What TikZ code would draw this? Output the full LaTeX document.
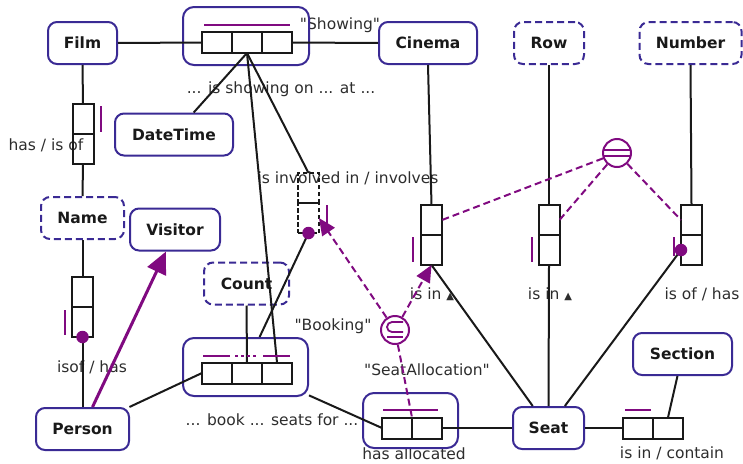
\documentclass[tikz,border=0pt]{standalone}
\usepackage{fontspec}
\setmainfont{DejaVu Sans}
\usetikzlibrary{arrows.meta,calc}

\definecolor{entblue}{RGB}{58,42,148}
\definecolor{cpurple}{RGB}{128,10,128}
\definecolor{lblgray}{RGB}{45,45,45}

\newcommand\tritip{{\fontsize{10}{10}\selectfont ▲}}
\newcommand\qq[1]{\textquotedbl#1\textquotedbl}

\tikzset{
  ent/.style={draw=entblue, line width=2pt, rounded corners=9pt, minimum height=42pt,
    inner sep=0pt, font=\fontsize{15.5}{18}\selectfont\bfseries, text=black!90},
  valt/.style={ent, dash pattern=on 7pt off 4pt},
  fbox/.style={draw=entblue, line width=2pt, rounded corners=11pt, inner sep=0pt},
  hrole/.style={draw=black!90, line width=2pt, minimum width=30pt, minimum height=21pt,
    inner sep=0pt, outer sep=0pt},
  vrole/.style={hrole, minimum width=21pt, minimum height=30pt},
  drole/.style={vrole, dash pattern=on 4.5pt off 2.5pt},
  conn/.style={draw=black!90, line width=2pt},
  uq/.style={draw=cpurple, line width=2pt},
  cdash/.style={draw=cpurple, line width=2pt, dash pattern=on 7pt off 4pt},
  ctip/.style={-{Triangle[length=17pt,width=15pt]}},
  dotm/.style={circle, fill=cpurple, minimum size=12.5pt, inner sep=0pt},
  lbl/.style={font=\fontsize{15.5}{18}\selectfont, text=lblgray, inner sep=0pt},
  cons/.style={circle, draw=cpurple, line width=2pt, minimum size=28pt, inner sep=0pt}
}

\begin{document}
\begin{tikzpicture}[x=1pt,y=-1pt]
\useasboundingbox (0,0) rectangle (743,463);

% reading labels
\node[lbl] (lshowing) at (340,25) {\qq{Showing}};
\node[lbl] (lshowon) at (281,89) {... is showing on ... at ...};
\node[lbl] (lhasis) at (46,145) {has / is of};
\node[lbl] (lisof) at (92,367) {isof / has};
\node[lbl] (linvolved) at (348,178) {is involved in / involves};
\node[lbl] (lcinin) at (432,294) {is in \tritip};
\node[lbl] (lrowin) at (550,294) {is in \tritip};
\node[lbl] (lnumof) at (702,294) {is of / has};
\node[lbl] (lbooking) at (333,326) {\qq{Booking}};
\node[lbl] (lalloc) at (427,370) {\qq{SeatAllocation}};
\node[lbl] (lbook) at (272,420) {... book ... seats for ...};
\node[lbl] (lhasalloc) at (414,454) {has allocated};
\node[lbl] (lcontain) at (672,453) {is in / contain};

% object and value types
\node[ent, minimum width=69pt] (film) at (82.5,43) {Film};
\node[ent, minimum width=98pt] (cinema) at (428,43) {Cinema};
\node[valt, minimum width=70pt] (row) at (549,43) {Row};
\node[valt, minimum width=102pt] (number) at (690.5,43) {Number};
\node[ent, minimum width=118pt] (datetime) at (174,134.5) {DateTime};
\node[valt, minimum width=83pt] (name) at (82.5,218) {Name};
\node[ent, minimum width=90pt] (visitor) at (175,229.5) {Visitor};
\node[valt, minimum width=85pt] (count) at (246.5,283.5) {Count};
\node[ent, minimum width=93pt] (person) at (82.5,429) {Person};
\node[ent, minimum width=71pt] (seat) at (548.5,428) {Seat};
\node[ent, minimum width=99pt] (section) at (682.5,354) {Section};

% objectified fact types
\node[fbox, minimum width=126pt, minimum height=58pt] (showbox) at (246,36) {};
\node[fbox, minimum width=125pt, minimum height=58pt] (bookbox) at (245.5,367) {};
\node[fbox, minimum width=95pt, minimum height=55pt] (allocbox) at (410.5,420.5) {};

% role boxes
\node[hrole] (s1) at (217,42.5) {};
\node[hrole] (s2) at (247,42.5) {};
\node[hrole] (s3) at (277,42.5) {};
\node[hrole] (b1) at (217,373) {};
\node[hrole] (b2) at (247,373) {};
\node[hrole] (b3) at (277,373) {};
\node[hrole] (a1) at (397,428) {};
\node[hrole] (a2) at (427,428) {};
\node[hrole] (c1) at (638,428) {};
\node[hrole] (c2) at (668,428) {};
\node[vrole] (f1) at (83,119) {};
\node[vrole] (f2) at (83,149) {};
\node[vrole] (p1) at (82.5,292) {};
\node[vrole] (p2) at (82.5,322) {};
\node[drole] (i1) at (308.5,188) {};
\node[drole] (i2) at (308.5,218) {};
\node[vrole] (k1) at (431.5,220) {};
\node[vrole] (k2) at (431.5,250) {};
\node[vrole] (r1) at (549,220) {};
\node[vrole] (r2) at (549,250) {};
\node[vrole] (n1) at (691.5,220) {};
\node[vrole] (n2) at (691.5,250) {};

% role connectors
\draw[conn] (film.east) -- (s1.west);
\draw[conn] (s3.east) -- (cinema.west);
\draw[conn] (s2.south) -- (datetime);
\draw[conn] (s2.south) -- (b3.north);
\draw[conn] (s2.south) -- (i1.north);
\draw[conn] (i2.south) -- (bookbox);
\draw[conn] (count.south) -- (b2.north);
\draw[conn] (person) -- (b1.west);
\draw[conn] (bookbox) -- (a1.west);
\draw[conn] (a2.east) -- (seat.west);
\draw[conn] (seat.east) -- (c1.west);
\draw[conn] (c2.north) -- (section);
\draw[conn] (cinema.south) -- (k1.north);
\draw[conn] (k2.south) -- (seat);
\draw[conn] (row.south) -- (r1.north);
\draw[conn] (r2.south) -- (seat.north);
\draw[conn] (number.south) -- (n1.north);
\draw[conn] (n2.west) -- (seat);
\draw[conn] (film.south) -- (f1.north);
\draw[conn] (f2.south) -- (name.north);
\draw[conn] (name.south) -- (p1.north);
\draw[conn] (p2.south) -- (person.north);

% uniqueness constraints
\draw[uq] ($(s1.north west)+(2,-7)$) -- ($(s3.north east)+(-2,-7)$);
\draw[uq] ($(f1.north east)+(7,2)$) -- ($(f1.south east)+(7,-2)$);
\draw[uq] ($(p2.north west)+(-7,3)$) -- ($(p2.south west)+(-7,-2)$);
\draw[uq] ($(i2.north east)+(8,2)$) -- ($(i2.south east)+(8,-9)$);
\draw[uq] ($(k2.north west)+(-8,2)$) -- ($(k2.south west)+(-8,-3)$);
\draw[uq] ($(r2.north west)+(-7,2)$) -- ($(r2.south west)+(-7,-3)$);
\draw[uq] ($(n2.north west)+(-7,2)$) -- ($(n2.south west)+(-7,-9)$);
\draw[uq] ($(b1.north west)+(1,-7)$) -- ($(b1.north east)+(-2,-7)$);
\draw[uq, dash pattern=on 3pt off 3pt] ($(b2.north west)+(3,-7)$) -- ($(b2.north east)+(-3,-7)$);
\draw[uq] ($(b3.north west)+(1,-7)$) -- ($(b3.north east)+(-2,-7)$);
\draw[uq] ($(a1.north west)+(1,-8)$) -- ($(a2.north east)+(-4,-8)$);
\draw[uq] ($(c1.north west)+(2,-8)$) -- ($(c1.north east)+(-2,-8)$);

% mandatory role dots
\node[dotm] (dname) at (p2.south) {};
\node[dotm] (dinv) at (i2.south) {};
\node[dotm] (dnum) at (n2.west) {};

% subtype arrow
\draw[cpurple, line width=3pt, -{Triangle[length=22pt,width=20pt]}]
  ([xshift=10pt]person.north) -- ([xshift=-9pt]visitor.south);

% equality constraint
\node[cons] (eq) at (617,153) {};
\draw[cpurple, line width=1.8pt] ($(eq)+(-13.5,-3)$) -- ($(eq)+(13.5,-3)$);
\draw[cpurple, line width=1.8pt] ($(eq)+(-13.5,3)$) -- ($(eq)+(13.5,3)$);
\draw[cdash] (eq) -- (k1.east);
\draw[cdash] (eq) -- (r1.east);
\draw[cdash] (eq) -- (n1.west);

% subset constraint
\node[cons] (sub) at (395,330) {};
\draw[cpurple, line width=1.8pt] ($(sub)+(8,-8)$) -- ($(sub)+(-3,-8)$) arc (270:90:5) -- ($(sub)+(8,2)$);
\draw[cpurple, line width=1.8pt] ($(sub)+(-8,7)$) -- ($(sub)+(8,7)$);
\draw[cdash, ctip] (sub) -- (i2.east);
\draw[cdash, ctip] (sub) -- (k2.south);
\draw[cdash] (sub) -- (a1.north east);
\end{tikzpicture}
\end{document}
